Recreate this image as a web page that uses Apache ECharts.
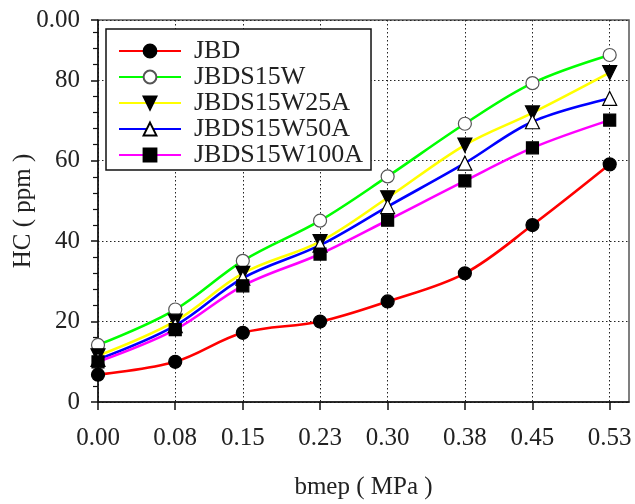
<!DOCTYPE html>
<html>
<head>
<meta charset="utf-8">
<script src="https://cdn.jsdelivr.net/npm/echarts@6/dist/echarts.min.js"></script>
<style>
  html, body { margin: 0; padding: 0; background: #fff; }
  #chart { width: 635px; height: 504px; }
</style>
</head>
<body>
<div id="chart"></div>
<script>
// Engine load (bmep, MPa) at each measured point
const bmep = [0.00, 0.08, 0.15, 0.23, 0.30, 0.38, 0.45, 0.53];

// HC emissions (ppm) for each fuel blend
const hcJBD        = [6.8, 10.0, 17.2, 20.0, 25.0, 32.0, 44.0, 59.1];
const hcJBDS15W    = [14.2, 23.0, 35.1, 45.1, 56.1, 69.2, 79.3, 86.3];
const hcJBDS15W25A = [11.5, 20.1, 32.0, 39.9, 50.8, 63.9, 71.9, 81.9];
const hcJBDS15W50A = [10.6, 19.0, 30.8, 39.0, 48.6, 59.4, 69.7, 75.5];
const hcJBDS15W100A = [10.0, 18.0, 28.9, 36.8, 45.2, 55.0, 63.2, 70.1];

const seriesNames = ['JBD', 'JBDS15W', 'JBDS15W25A', 'JBDS15W50A', 'JBDS15W100A'];
const yTickValues = [0, 20, 40, 60, 80];
const yTopLabel = '0.00';

const FONT = '"Liberation Serif", "DejaVu Serif", serif';
const DOWN_TRIANGLE = 'path://M0,0 L10,0 L5,9 Z';

function pairs(ys) { return bmep.map((x, i) => [x, ys[i]]); }

function lineSeries(name, ys, color, symbol, fill, border, size) {
  return {
    name: name,
    type: 'line',
    data: pairs(ys),
    smooth: 0.35,
    symbol: symbol,
    symbolSize: size,
    showAllSymbol: true,
    lineStyle: { color: color, width: 2.6 },
    itemStyle: { color: fill, borderColor: border, borderWidth: 1.2 },
    emphasis: { disabled: true },
    animation: false
  };
}

const chart = echarts.init(document.getElementById('chart'), null, { renderer: 'canvas' });

chart.setOption({
  backgroundColor: '#ffffff',
  animation: false,
  grid: {
    left: 98, right: 6, top: 20, bottom: 102,
    containLabel: false, outerBoundsMode: 'none',
    show: true, borderColor: '#555', borderWidth: 1.5, backgroundColor: 'transparent'
  },
  legend: {
    left: 106, top: 29,
    orient: 'vertical',
    backgroundColor: '#fff',
    borderColor: '#111', borderWidth: 1.5,
    padding: [9, 8, 2, 12],
    itemWidth: 62, itemHeight: 16, itemGap: 0,
    textStyle: { fontFamily: FONT, fontSize: 26, lineHeight: 24, color: '#222', padding: [0, 0, 0, 8] },
    data: seriesNames
  },
  xAxis: {
    type: 'value',
    min: 0, max: 0.55,
    name: 'bmep ( MPa )',
    nameLocation: 'middle',
    nameGap: 73,
    nameMoveOverlap: false,
    nameTextStyle: { fontFamily: FONT, fontSize: 25, color: '#222' },
    axisLine: { show: true, onZero: false, lineStyle: { color: '#111', width: 1.5 } },
    axisTick: { show: true, length: 8, customValues: bmep, lineStyle: { color: '#111', width: 1.5 } },
    axisLabel: {
      customValues: bmep, margin: 24,
      fontFamily: FONT, fontSize: 25, color: '#222',
      formatter: v => v.toFixed(2)
    },
    splitLine: { show: true, lineStyle: { color: '#222', width: 1, type: [1.5, 2.5] } }
  },
  yAxis: {
    type: 'value',
    min: 0, max: 95, interval: 20,
    name: 'HC ( ppm )',
    nameLocation: 'middle',
    nameGap: 62,
    nameMoveOverlap: false,
    nameTextStyle: { fontFamily: FONT, fontSize: 25, color: '#222' },
    axisLine: { show: true, onZero: false, lineStyle: { color: '#111', width: 1.5 } },
    axisTick: { show: true, length: 7, lineStyle: { color: '#111', width: 1.5 } },
    minorTick: { show: true, splitNumber: 5, length: 5, lineStyle: { color: '#111', width: 1.2 } },
    axisLabel: {
      margin: 18, fontFamily: FONT, fontSize: 25, color: '#222',
      showMaxLabel: true,
      formatter: v => (yTickValues.indexOf(v) >= 0 ? String(v) : yTopLabel)
    },
    splitLine: { show: true, lineStyle: { color: '#222', width: 1, type: [1.5, 2.5] } }
  },
  series: [
    lineSeries('JBD', hcJBD, '#ff0000', 'circle', '#000', '#000', 13),
    lineSeries('JBDS15W', hcJBDS15W, '#00ff00', 'circle', '#fff', '#555', 13),
    lineSeries('JBDS15W25A', hcJBDS15W25A, '#ffff00', DOWN_TRIANGLE, '#000', '#000', 14),
    lineSeries('JBDS15W50A', hcJBDS15W50A, '#0000ff', 'triangle', '#fff', '#000', 14),
    lineSeries('JBDS15W100A', hcJBDS15W100A, '#ff00ff', 'rect', '#000', '#000', 12)
  ]
});
</script>
</body>
</html>
